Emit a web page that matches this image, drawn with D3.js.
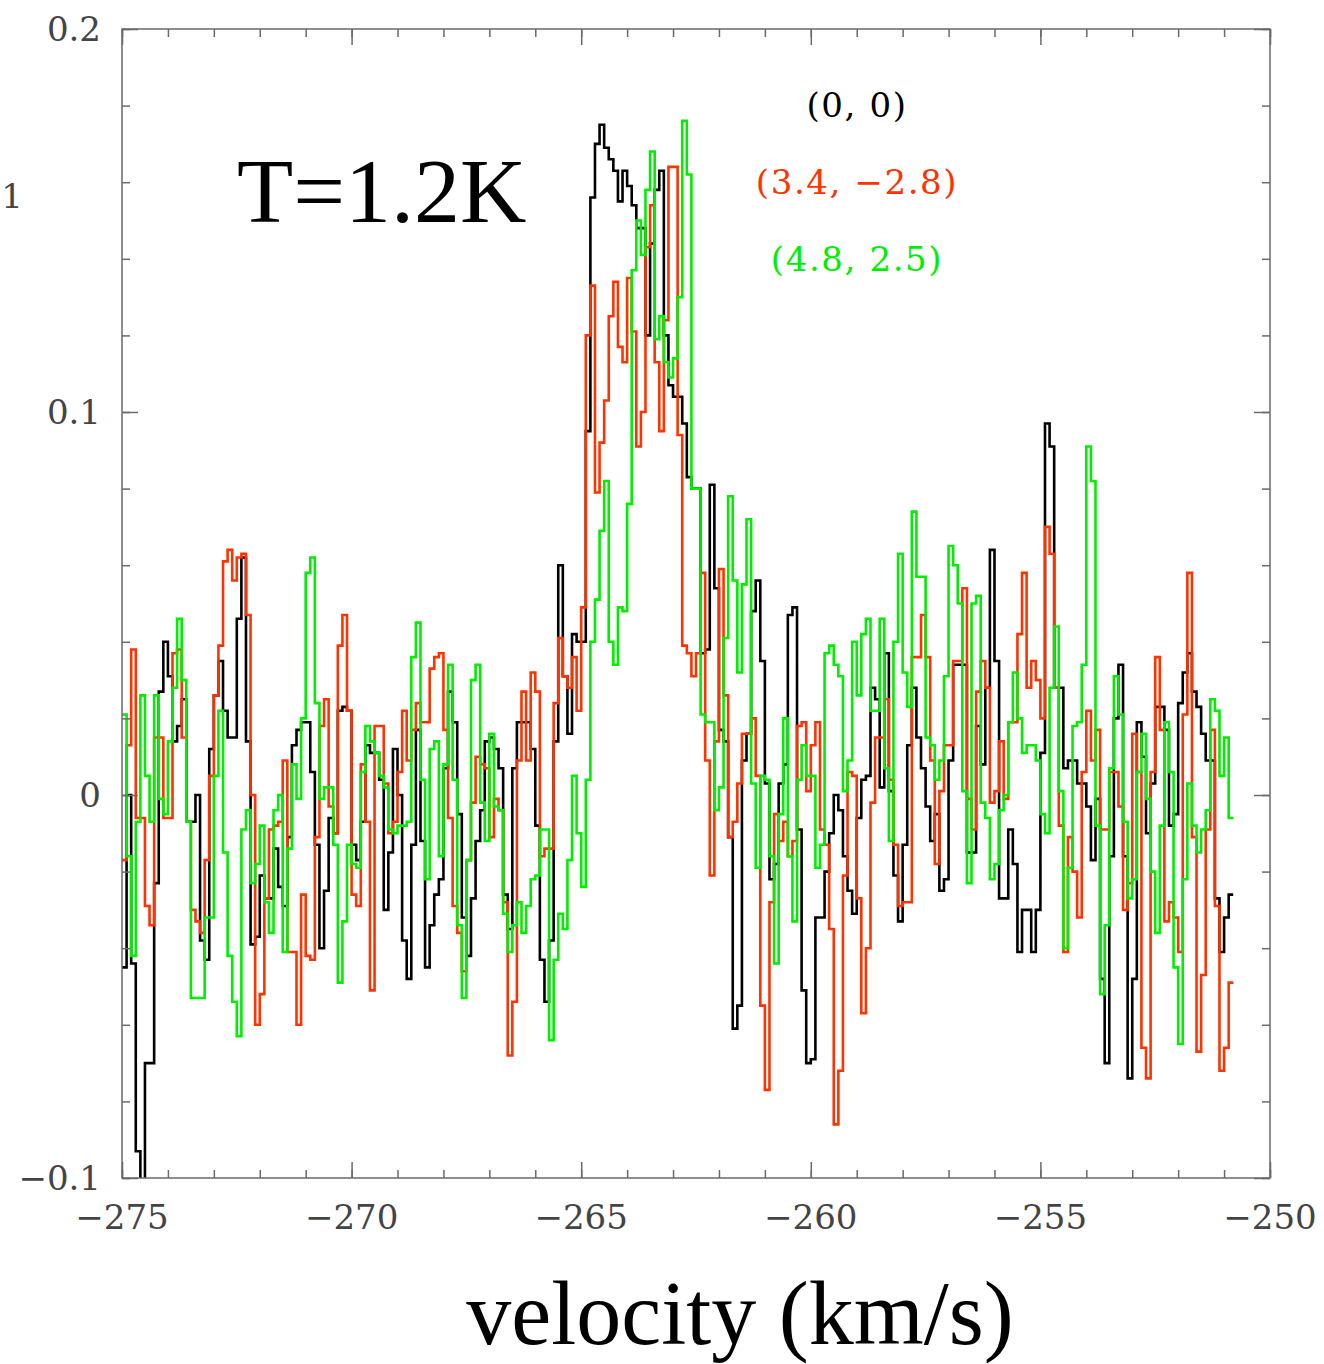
<!DOCTYPE html>
<html><head><meta charset="utf-8">
<script src="https://cdn.jsdelivr.net/npm/d3@7"></script>
<style>body{margin:0;background:#fff}</style>
</head><body>
<svg id="chart" width="1324" height="1364"></svg>
<script>
// channel grid of the spectra (km/s)
const velStart = -275.0;
const chanWidth = 0.1;
const xTicksMajor = [-275, -270, -265, -260, -255, -250];
const xTicksMinor = d3.range(-275, -249.5, 1);
const yTicksMajor = [-0.1, 0, 0.1, 0.2];
const yTicksMinor = d3.range(-0.1, 0.2001, 0.02);
const xTickLabels = ["\u2212275", "\u2212270", "\u2212265", "\u2212260", "\u2212255", "\u2212250"];
const yTickLabels = ["\u22120.1", "0", "0.1", "0.2"];
const seriesNames = ["(0, 0)", "(3.4, \u22122.8)", "(4.8, 2.5)"];
const seriesColors = ["#000000", "#ff3300", "#00ee00"];

const black = [
-0.045,0.000,-0.044,-0.093,-0.115,-0.070,-0.070,-0.023,0.027,0.040,0.031,0.014,0.018,0.025,-0.007,-0.007,0.000,-0.038,-0.043,0.012,0.026,0.035,0.022,0.015,0.015,0.046,0.062,0.014,-0.039,-0.037,-0.021,
-0.027,-0.027,-0.014,-0.024,-0.029,-0.011,0.013,0.017,0.019,0.019,0.006,-0.013,-0.040,-0.025,-0.006,-0.010,0.022,0.023,0.022,-0.013,-0.017,-0.007,0.013,0.011,0.011,0.004,-0.030,-0.015,0.012,0.000,-0.038,
-0.048,-0.013,0.017,-0.012,-0.045,-0.034,-0.026,-0.022,0.007,0.027,0.019,-0.005,-0.032,-0.042,-0.027,-0.012,-0.004,0.014,0.015,0.012,0.007,-0.026,-0.035,0.007,0.019,0.019,0.019,0.012,-0.008,-0.043,
-0.054,-0.038,0.014,0.060,0.031,0.016,0.042,0.040,0.040,0.095,0.156,0.170,0.175,0.169,0.166,0.163,0.155,0.163,0.159,0.154,0.148,0.148,0.120,0.144,0.158,0.163,0.120,0.107,0.104,0.104,0.097,0.083,0.080,0.080,0.037,
0.038,0.081,0.054,0.017,0.014,-0.011,-0.061,-0.055,0.009,0.016,0.048,0.056,0.035,0.003,-0.022,-0.018,0.003,0.008,0.047,0.049,-0.009,-0.051,-0.070,-0.069,-0.032,-0.032,-0.020,-0.010,0.000,-0.004,-0.016,
-0.025,-0.031,-0.006,0.004,0.005,0.028,0.025,0.002,0.037,0.001,-0.021,-0.033,-0.013,0.013,0.028,0.015,0.007,-0.003,-0.012,-0.005,-0.025,-0.022,0.009,0.034,0.034,0.034,-0.015,-0.015,0.018,0.008,
0.028,0.064,0.035,-0.027,-0.027,-0.009,-0.018,-0.041,-0.030,-0.030,-0.041,-0.030,0.011,0.097,0.091,0.028,0.028,0.007,0.009,0.009,0.003,0.003,-0.003,-0.017,-0.001,-0.048,-0.070,-0.016,0.020,0.034,
-0.016,-0.074,-0.048,0.019,0.010,-0.010,0.003,0.023,0.023,0.017,-0.008,-0.005,0.024,0.032,0.037,0.027,0.023,0.016,0.009,0.009,-0.027,-0.041,-0.032,-0.026
];
const red = [
-0.017,0.013,0.038,-0.006,-0.006,-0.029,-0.034,0.015,0.015,-0.006,-0.006,0.037,0.038,0.015,-0.007,-0.030,-0.033,-0.036,-0.017,0.005,0.026,0.039,0.061,0.064,0.056,0.062,0.063,0.047,0.000,-0.060,-0.052,
-0.027,-0.009,-0.008,-0.007,0.009,-0.041,-0.041,-0.060,-0.026,-0.042,-0.043,-0.011,0.018,0.025,-0.003,-0.010,0.039,0.047,0.022,-0.026,-0.029,0.008,-0.007,-0.051,0.018,0.018,0.003,-0.010,-0.007,0.006,0.022,
0.009,0.017,0.024,0.019,0.019,0.033,0.036,0.037,0.017,-0.006,-0.029,-0.036,-0.046,-0.017,-0.002,0.010,0.008,0.007,-0.011,-0.001,-0.004,-0.028,-0.068,-0.054,0.009,0.027,0.009,0.032,0.027,-0.016,
-0.014,-0.014,0.024,0.041,0.031,0.028,0.036,0.022,0.049,0.120,0.133,0.079,0.092,0.103,0.125,0.134,0.117,0.113,0.135,0.121,0.091,0.100,0.143,0.154,0.113,0.095,0.124,0.164,0.164,0.094,0.039,0.037,0.031,0.037,0.058,
0.009,-0.021,0.014,0.059,0.026,-0.011,-0.007,0.003,0.016,0.016,0.020,0.005,-0.055,-0.077,-0.028,-0.005,-0.012,-0.007,-0.016,-0.012,0.018,0.019,0.001,0.013,0.019,-0.009,-0.013,-0.035,-0.086,-0.072,-0.021,
0.006,0.005,-0.027,-0.057,-0.040,-0.002,0.015,0.015,0.025,0.004,-0.013,-0.029,-0.028,-0.028,0.036,0.036,0.047,0.036,0.009,-0.018,0.001,0.013,0.013,0.035,0.035,0.054,-0.001,-0.009,0.027,0.035,
0.028,-0.002,0.001,0.014,-0.001,0.019,0.019,0.042,0.058,0.028,0.035,0.030,0.020,0.070,0.063,0.028,-0.008,-0.041,-0.011,-0.020,-0.032,0.006,0.022,0.009,0.017,-0.009,-0.009,0.006,0.006,-0.003,
-0.030,-0.023,0.016,0.006,-0.066,-0.074,0.006,0.036,0.017,-0.033,-0.028,-0.032,-0.041,0.021,0.058,-0.011,-0.067,-0.047,-0.009,0.017,-0.029,-0.072,-0.066,-0.049
];
const green = [
0.021,-0.016,-0.042,-0.007,0.026,0.005,-0.007,0.026,-0.001,-0.005,0.014,0.028,0.046,0.030,-0.007,-0.053,-0.053,-0.053,-0.032,-0.032,0.005,0.022,-0.015,-0.042,-0.054,-0.063,-0.009,-0.004,-0.023,-0.018,-0.008,
-0.028,-0.036,-0.004,0.000,-0.041,-0.014,0.008,-0.001,0.020,0.058,0.062,0.024,-0.001,0.002,0.002,-0.013,-0.049,-0.033,-0.013,-0.018,-0.019,0.006,0.018,0.014,0.011,0.005,0.002,-0.009,-0.010,-0.008,-0.008,
-0.007,0.036,0.045,0.004,-0.022,0.012,0.014,-0.016,0.008,0.034,0.004,-0.034,-0.053,-0.017,0.030,0.034,-0.002,-0.012,0.016,-0.003,-0.004,-0.031,-0.041,-0.034,-0.028,-0.036,-0.029,-0.022,-0.021,-0.009,
-0.009,-0.064,-0.043,-0.031,-0.035,-0.017,0.005,-0.010,-0.024,0.004,0.040,0.051,0.069,0.082,0.040,0.034,0.049,0.048,0.076,0.137,0.150,0.141,0.158,0.168,0.119,0.125,0.113,0.109,0.114,0.130,0.176,0.162,0.080,0.080,0.021,
0.019,0.019,-0.004,0.002,0.041,0.078,0.056,0.032,0.055,0.072,0.003,-0.019,0.005,0.004,-0.016,-0.044,-0.005,0.020,-0.016,-0.033,0.004,0.013,0.005,0.005,-0.019,-0.013,0.037,0.039,0.034,0.031,0.001,
0.009,0.040,0.026,0.042,0.046,0.022,0.022,0.046,0.007,-0.012,0.040,0.063,0.032,0.023,0.074,0.057,0.057,0.015,0.013,0.004,0.009,0.031,0.065,0.060,0.050,0.001,-0.023,0.050,0.052,-0.002,
-0.006,-0.022,-0.018,-0.004,0.000,0.019,0.032,0.020,0.011,0.013,0.013,0.009,-0.005,-0.010,0.028,0.044,0.001,-0.040,-0.019,0.018,0.019,0.034,0.091,0.082,-0.008,-0.052,-0.034,0.007,0.031,0.021,
-0.007,-0.027,-0.022,0.006,0.016,-0.001,-0.020,-0.036,-0.008,0.019,0.006,-0.045,-0.065,-0.022,0.003,-0.008,-0.015,-0.009,-0.004,0.025,0.022,0.005,0.015,-0.006
];
const seriesData = [black, red, green];

const svg = d3.select("#chart");
const L = 122, R = 1270, T = 29, B = 1178;
const x = d3.scaleLinear().domain([-275, -250]).range([L, R]);
const y = d3.scaleLinear().domain([-0.1, 0.2]).range([B, T]);

svg.append("defs").append("clipPath").attr("id", "clip")
  .append("rect").attr("x", L).attr("y", T).attr("width", R - L).attr("height", B - T);

// step lines
const line = d3.line().x(d => x(d[0])).y(d => y(d[1])).curve(d3.curveStepAfter);
const plot = svg.append("g").attr("clip-path", "url(#clip)");
seriesData.forEach((vals, s) => {
  const pts = vals.map((v, i) => [velStart + i * chanWidth, v]);
  pts.push([velStart + vals.length * chanWidth, vals[vals.length - 1]]);
  plot.append("path").datum(pts)
    .attr("fill", "none").attr("stroke", seriesColors[s])
    .attr("stroke-width", 2.6).attr("stroke-linejoin", "miter")
    .attr("d", line);
});

// frame and ticks
const axisColor = "#6a6a6a";
function styleAxis(g) {
  g.select(".domain").remove();
  g.selectAll("line").attr("stroke", axisColor).attr("stroke-width", 1.5);
  g.selectAll("text").remove();
}
svg.append("g").attr("transform", `translate(0,${B})`)
  .call(d3.axisBottom(x).tickValues(xTicksMinor).tickSize(-8)).call(styleAxis);
svg.append("g").attr("transform", `translate(0,${B})`)
  .call(d3.axisBottom(x).tickValues(xTicksMajor).tickSize(-16)).call(styleAxis);
svg.append("g").attr("transform", `translate(0,${T})`)
  .call(d3.axisTop(x).tickValues(xTicksMinor).tickSize(-8)).call(styleAxis);
svg.append("g").attr("transform", `translate(0,${T})`)
  .call(d3.axisTop(x).tickValues(xTicksMajor).tickSize(-16)).call(styleAxis);
svg.append("g").attr("transform", `translate(${L},0)`)
  .call(d3.axisLeft(y).tickValues(yTicksMinor).tickSize(-8)).call(styleAxis);
svg.append("g").attr("transform", `translate(${L},0)`)
  .call(d3.axisLeft(y).tickValues(yTicksMajor).tickSize(-16)).call(styleAxis);
svg.append("g").attr("transform", `translate(${R},0)`)
  .call(d3.axisRight(y).tickValues(yTicksMinor).tickSize(-8)).call(styleAxis);
svg.append("g").attr("transform", `translate(${R},0)`)
  .call(d3.axisRight(y).tickValues(yTicksMajor).tickSize(-16)).call(styleAxis);
svg.append("rect").attr("x", L).attr("y", T).attr("width", R - L).attr("height", B - T)
  .attr("fill", "none").attr("stroke", axisColor).attr("stroke-width", 1.5);

// tick labels
const tickFont = "'DejaVu Serif', serif";
svg.append("g").selectAll("text").data(xTicksMajor).join("text")
  .attr("x", d => x(d)).attr("y", 1229)
  .attr("text-anchor", "middle").attr("font-family", tickFont).attr("font-size", 34)
  .attr("fill", "#444").text((d, i) => xTickLabels[i]);
svg.append("g").selectAll("text").data(yTicksMajor).join("text")
  .attr("x", 101).attr("y", d => y(d) + 12)
  .attr("text-anchor", "end").attr("font-family", tickFont).attr("font-size", 34)
  .attr("fill", "#444").text((d, i) => yTickLabels[i]);
svg.append("text").attr("x", 12).attr("y", 208).attr("text-anchor", "middle")
  .attr("font-family", tickFont).attr("font-size", 34).attr("fill", "#444").text("1");

// legend labels
seriesNames.forEach((n, i) => {
  svg.append("text").attr("x", 857).attr("y", 117 + i * 77)
    .attr("text-anchor", "middle").attr("font-family", tickFont).attr("font-size", 34)
    .attr("letter-spacing", 1.6)
    .attr("fill", seriesColors[i]).text(n);
});

// annotation and axis title
svg.append("text").attr("x", 237).attr("y", 222)
  .attr("font-family", "'Liberation Serif', 'Times New Roman', serif").attr("font-size", 92)
  .attr("fill", "#000").text("T=1.2K");
svg.append("text").attr("x", 740).attr("y", 1344).attr("text-anchor", "middle")
  .attr("font-family", "'Liberation Serif', 'Times New Roman', serif").attr("font-size", 90)
  .attr("fill", "#000").text("velocity (km/s)");
</script>
</body></html>
